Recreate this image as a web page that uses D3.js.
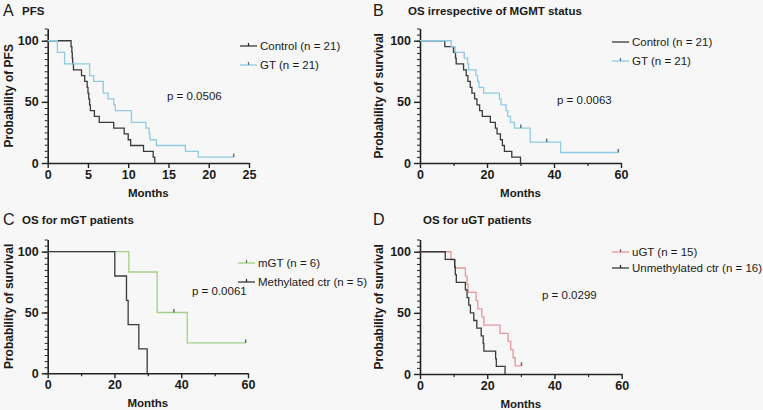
<!DOCTYPE html>
<meta charset="utf-8">
<head>
<style>
  body { margin: 0; background: #f7f7f7; }
  text { font-family: "Liberation Sans", Arial, Helvetica, sans-serif; fill: #1a1a1a; }
</style>
</head>
<body>
<script src="https://d3js.org/d3.v7.min.js"></script>
<script>

// ---- data: event times (months) and survival (%) after each event ----
var pfsCtrlT = [2.9, 3.0, 3.05, 3.1, 3.2, 4.2, 4.6, 4.9, 5.0, 5.1, 5.2, 5.3, 5.8, 6.4, 8.2, 9.5, 10.0, 10.3, 11.9, 13.1, 13.3];
var pfsCtrlS = [95.2, 90.5, 85.7, 81.0, 76.2, 71.4, 66.7, 61.9, 57.1, 52.4, 47.6, 42.9, 38.1, 33.3, 28.6, 23.8, 19.0, 14.3, 9.5, 4.8, 0];
var pfsGtT = [1.2, 2.1, 5.2, 5.7, 6.9, 7.5, 8.2, 8.4, 10.4, 12.2, 12.6, 12.7, 13.5, 17.1, 18.7];
var pfsGtS = [90.5, 81.0, 71.4, 66.7, 57.1, 52.4, 47.6, 42.9, 33.3, 28.6, 23.8, 19.0, 14.3, 9.5, 4.8];
var pfsGtCens = [23.1];

var osCtrlT = [7.4, 10.0, 10.6, 10.8, 13.0, 13.8, 14.3, 15.0, 15.5, 16.3, 17.0, 17.8, 18.6, 21.0, 22.5, 23.0, 24.0, 24.6, 25.2, 27.4, 30.0];
var osCtrlS = [95.2, 90.5, 85.7, 81.0, 76.2, 71.4, 66.7, 61.9, 57.1, 52.4, 47.6, 42.9, 38.1, 33.3, 28.6, 23.8, 19.0, 14.3, 9.5, 4.8, 0];
var osGtT = [9.3, 10.5, 13.2, 14.2, 14.5, 16.7, 17.2, 17.6, 19.0, 23.7, 24.2, 25.7, 26.2, 27.0, 28.2, 32.9, 42.0];
var osGtS = [95.2, 90.5, 85.7, 81.0, 76.2, 71.4, 66.7, 61.9, 57.1, 52.4, 47.6, 42.9, 38.1, 33.3, 28.6, 17.1, 8.6];
var osGtCens = [30.1, 37.8, 59.2];

var mCtrlT = [20.1, 23.6, 24.1, 27.3, 29.8];
var mCtrlS = [80, 60, 40, 20, 0];
var mGtT = [24.3, 32.8, 41.8];
var mGtS = [83.3, 50, 25];
var mGtCens = [37.8, 59.3];

var uCtrlT = [7.5, 10.3, 10.5, 10.8, 13.5, 14.0, 14.5, 15.0, 16.0, 16.9, 18.2, 18.8, 19.0, 22.5, 22.7, 25.3];
var uCtrlS = [93.75, 87.5, 81.25, 75, 68.75, 62.5, 56.25, 50, 43.75, 37.5, 31.25, 25, 18.75, 12.5, 6.25, 0];
var uGtT = [9.2, 10.5, 13.5, 14.0, 14.3, 16.7, 17.2, 18.4, 19.0, 23.8, 26.2, 27.0, 27.7, 28.3];
var uGtS = [93.3, 86.7, 80, 73.3, 66.7, 60, 53.3, 46.7, 40, 33.3, 26.7, 20, 13.3, 6.7];
var uGtCens = [30.2];

var xTicksA = [0, 5, 10, 15, 20, 25];
var xTicksOS = [0, 20, 40, 60];
var yTicks = [0, 50, 100];

var ctrlColor = "#3a3a3a";
var gtColor = "#8fcbe3";
var mColor = "#a3cf86";
var uColor = "#e8959c";

var W = 763, H = 410;
var svg = d3.select("body").append("svg")
    .attr("width", W)
    .attr("height", H);

svg.append("rect").attr("width", W).attr("height", H).attr("fill", "#f7f7f7");

var panels = [
  { letter: "A", title: "PFS", ylab: "Probability of PFS", lx: 3, tx: 22, ty: 16,
    x0: 47.7, x1: 249, y0: 163, y110: 28.5, xmax: 25, xt: xTicksA, xminor: [],
    p: "p = 0.0506", px: 167, py: 100, legX: 240, legY: [46, 65],
    series: [
      { name: "Control (n = 21)", t: pfsCtrlT, s: pfsCtrlS, c: ctrlColor, cens: [], legTick: true },
      { name: "GT (n = 21)", t: pfsGtT, s: pfsGtS, c: gtColor, cens: pfsGtCens, legTick: true }
    ] },
  { letter: "B", title: "OS irrespective of MGMT status", ylab: "Probability of survival", lx: 373, tx: 408, ty: 16,
    x0: 420, x1: 621, y0: 163, y110: 28.5, xmax: 60, xt: xTicksOS, xminor: [10, 30, 50],
    p: "p = 0.0063", px: 557, py: 104, legX: 612, legY: [42, 61],
    series: [
      { name: "Control (n = 21)", t: osCtrlT, s: osCtrlS, c: ctrlColor, cens: [], legTick: false },
      { name: "GT (n = 21)", t: osGtT, s: osGtS, c: gtColor, cens: osGtCens, legTick: true }
    ] },
  { letter: "C", title: "OS for mGT patients", ylab: "Probability of survival", lx: 3, tx: 22, ty: 225,
    x0: 47.7, x1: 248, y0: 373.3, y110: 239.5, xmax: 60, xt: xTicksOS, xminor: [10, 30, 50],
    p: "p = 0.0061", px: 192, py: 295, legX: 238, legY: [263, 282],
    series: [
      { name: "mGT (n = 6)", t: mGtT, s: mGtS, c: mColor, cens: mGtCens, legTick: true },
      { name: "Methylated ctr (n = 5)", t: mCtrlT, s: mCtrlS, c: ctrlColor, cens: [], legTick: true }
    ] },
  { letter: "D", title: "OS for uGT patients", ylab: "Probability of survival", lx: 373, tx: 423, ty: 225,
    x0: 420, x1: 621.7, y0: 374, y110: 239.5, xmax: 60, xt: xTicksOS, xminor: [10, 30, 50],
    p: "p = 0.0299", px: 542, py: 299, legX: 612, legY: [252, 268],
    series: [
      { name: "uGT (n = 15)", t: uGtT, s: uGtS, c: uColor, cens: uGtCens, legTick: true },
      { name: "Unmethylated ctr (n = 16)", t: uCtrlT, s: uCtrlS, c: ctrlColor, cens: [], legTick: true }
    ] }
];

panels.forEach(function(p) {
  var x = d3.scaleLinear().domain([0, p.xmax]).range([p.x0, p.x1]);
  var y = d3.scaleLinear().domain([0, 110]).range([p.y0, p.y110]);
  var g = svg.append("g");

  // heading
  g.append("text").attr("x", p.lx).attr("y", p.ty).attr("font-size", 16).text(p.letter);
  g.append("text").attr("x", p.tx).attr("y", p.ty - 1).attr("font-size", 11.5).attr("font-weight", "bold").text(p.title);

  // y axis with minor ticks every 5
  var yMinor = d3.range(0, 111, 5);
  g.append("g").attr("transform", "translate(" + p.x0 + ",0)")
    .call(d3.axisLeft(y).tickValues(yMinor).tickSize(3).tickFormat(""))
    .call(function(a) { a.select(".domain").remove(); a.selectAll("line").attr("stroke", "#222"); });
  g.append("g").attr("transform", "translate(" + p.x0 + ",0)")
    .call(d3.axisLeft(y).tickValues(yTicks).tickSize(6).tickSizeOuter(0).tickPadding(3))
    .call(function(a) {
      a.select(".domain").attr("stroke", "#222").attr("stroke-width", 1.6);
      a.selectAll("line").attr("stroke", "#222").attr("stroke-width", 1.4);
      a.selectAll("text").attr("font-size", 12.5).attr("font-weight", "bold").attr("fill", "#1a1a1a")
        .style("font-family", "'Liberation Sans', Arial, sans-serif");
    });

  // x axis
  if (p.xminor.length) {
    g.append("g").attr("transform", "translate(0," + p.y0 + ")")
      .call(d3.axisBottom(x).tickValues(p.xminor).tickSize(3).tickFormat(""))
      .call(function(a) { a.select(".domain").remove(); a.selectAll("line").attr("stroke", "#222").attr("stroke-width", 1.2); });
  }
  g.append("g").attr("transform", "translate(0," + p.y0 + ")")
    .call(d3.axisBottom(x).tickValues(p.xt).tickSize(5).tickSizeOuter(0).tickPadding(2))
    .call(function(a) {
      a.select(".domain").attr("stroke", "#222").attr("stroke-width", 1.6);
      a.selectAll("line").attr("stroke", "#222").attr("stroke-width", 1.4);
      a.selectAll("text").attr("font-size", 12.5).attr("font-weight", "bold").attr("fill", "#1a1a1a")
        .style("font-family", "'Liberation Sans', Arial, sans-serif");
    });

  g.append("text").attr("x", (p.x0 + p.x1) / 2).attr("y", p.y0 + 34)
    .attr("text-anchor", "middle").attr("font-size", 11.5).attr("font-weight", "bold").text("Months");

  var yc = (p.y0 + p.y110) / 2;
  g.append("text").attr("transform", "translate(" + (p.lx + 10) + "," + yc + ") rotate(-90)")
    .attr("text-anchor", "middle").attr("font-size", 12).attr("font-weight", "bold").text(p.ylab);

  // curves
  var line = d3.line().x(function(d) { return x(d[0]); }).y(function(d) { return y(d[1]); })
    .curve(d3.curveStepAfter);
  p.series.forEach(function(sr) {
    var pts = [[0, 100]];
    sr.t.forEach(function(t, i) { pts.push([t, sr.s[i]]); });
    var last = sr.s[sr.s.length - 1];
    var tEnd = sr.cens.length ? Math.max(d3.max(sr.cens), sr.t[sr.t.length - 1]) : sr.t[sr.t.length - 1];
    pts.push([tEnd, last]);
    g.append("path").attr("d", line(pts)).attr("fill", "none")
      .attr("stroke", sr.c).attr("stroke-width", 1.3);

    // censor ticks
    sr.cens.forEach(function(ct) {
      var sv = 100;
      sr.t.forEach(function(t, i) { if (t <= ct) sv = sr.s[i]; });
      g.append("line").attr("x1", x(ct)).attr("x2", x(ct))
        .attr("y1", y(sv) - 3.5).attr("y2", y(sv))
        .attr("stroke", d3.color(sr.c).darker(1.6)).attr("stroke-width", 1.5);
    });
  });

  // legend
  p.series.forEach(function(sr, i) {
    var ly = p.legY[i];
    g.append("line").attr("x1", p.legX).attr("x2", p.legX + 17).attr("y1", ly).attr("y2", ly)
      .attr("stroke", sr.c).attr("stroke-width", 1.3);
    if (sr.legTick) {
      g.append("line").attr("x1", p.legX + 8.5).attr("x2", p.legX + 8.5).attr("y1", ly - 3).attr("y2", ly)
        .attr("stroke", d3.color(sr.c).darker(1.6)).attr("stroke-width", 1.2);
    }
    g.append("text").attr("x", p.legX + 20).attr("y", ly + 4).attr("font-size", 11.5).text(sr.name);
  });

  g.append("text").attr("x", p.px).attr("y", p.py).attr("font-size", 11.5).text(p.p);
});

</script>
</body>
